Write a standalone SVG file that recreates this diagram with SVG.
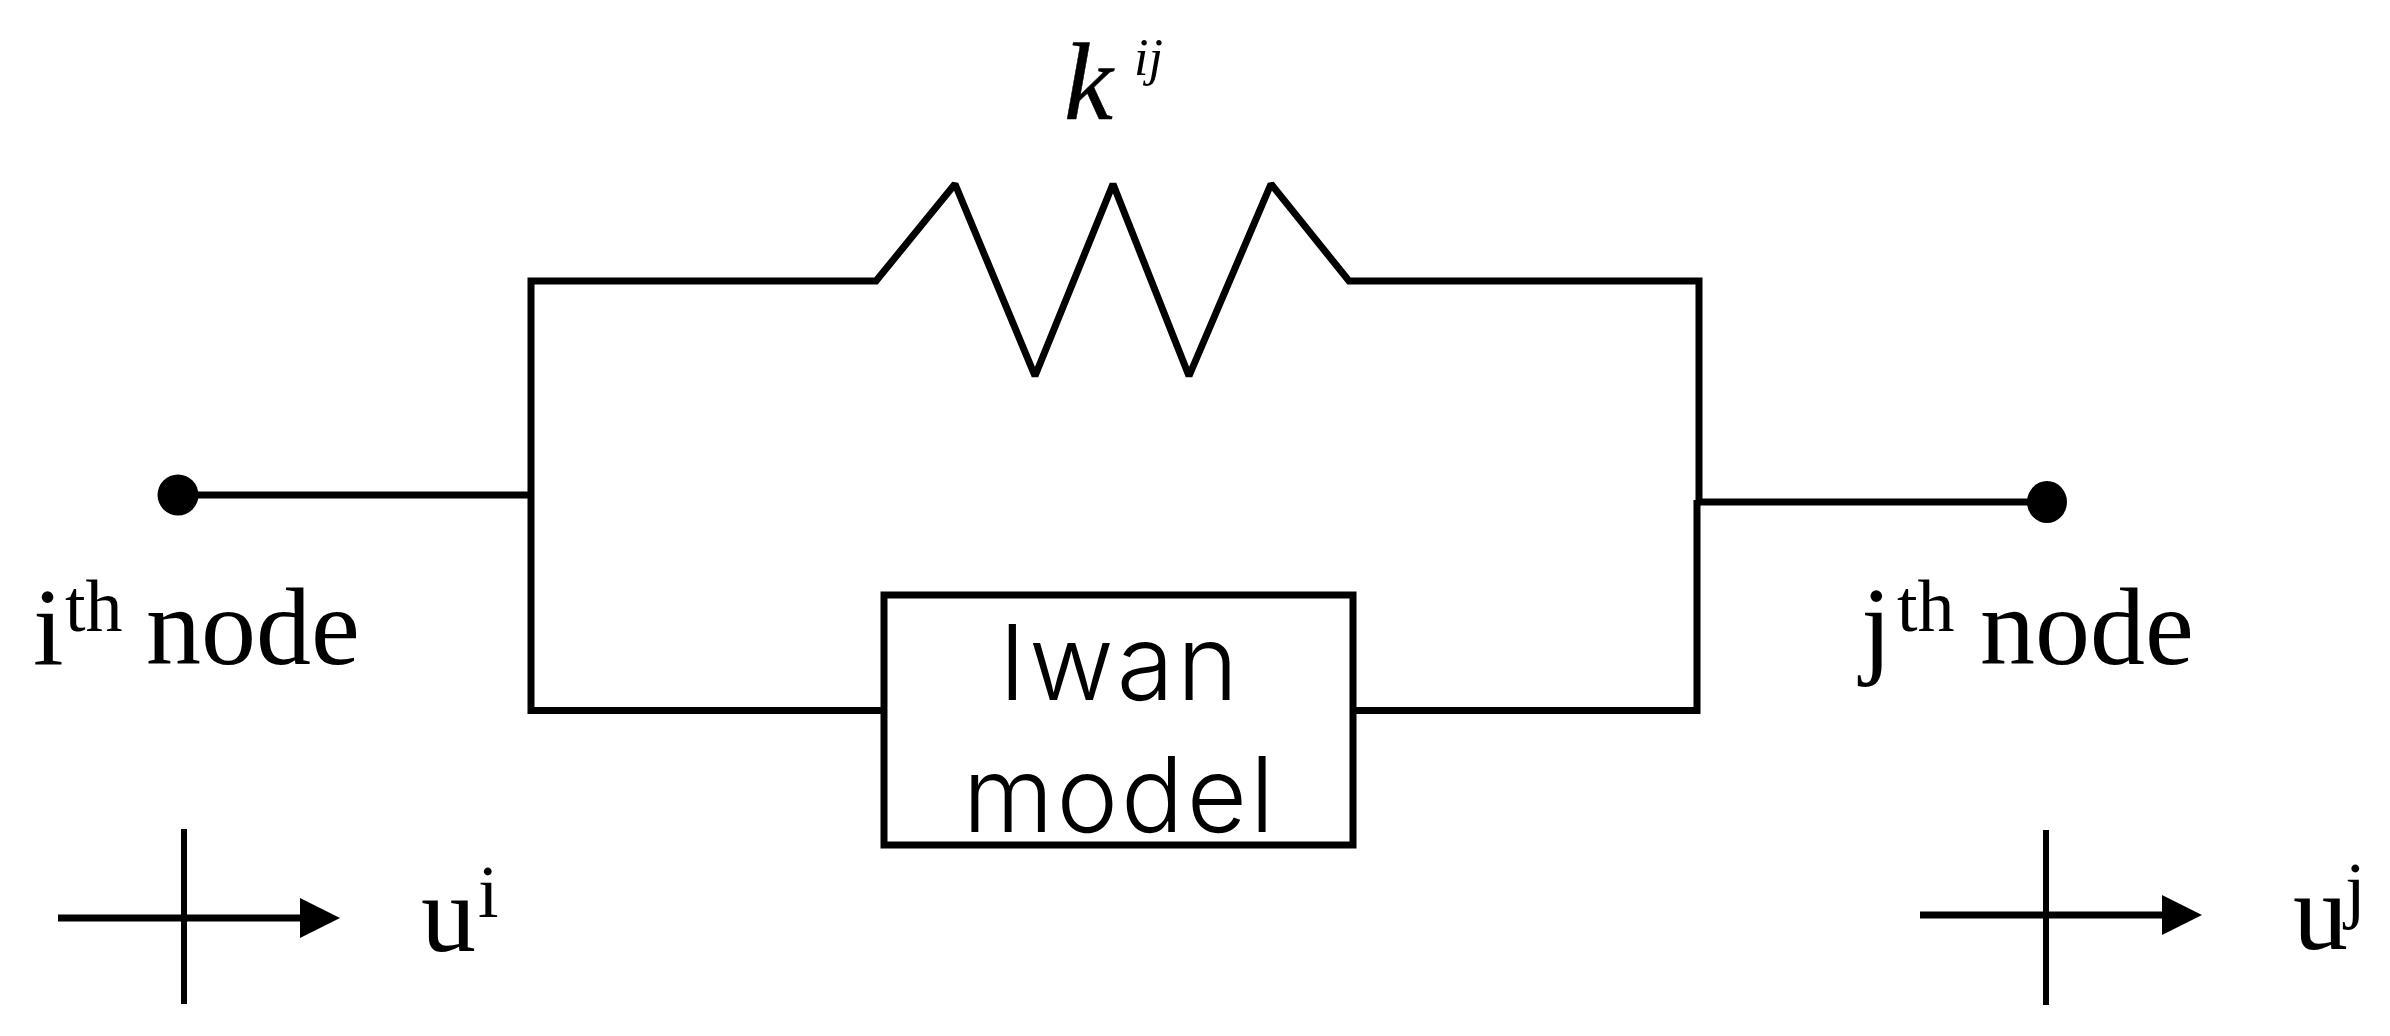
<svg xmlns="http://www.w3.org/2000/svg" width="2390" height="1036" viewBox="0 0 2390 1036">
<style>
.w{fill:none;stroke:#000;stroke-width:7;stroke-linejoin:miter;stroke-miterlimit:1.6}
.t{stroke:#000;stroke-width:6;fill:none}
.h{stroke:#000;stroke-width:7;fill:none}
.s{font-family:"Liberation Serif",serif;fill:#000}
.n{font-size:110px}
.u{font-size:74px}
.b{font-family:Inter,"Liberation Sans",sans-serif;font-weight:300;font-size:104px;letter-spacing:3px;fill:#000;text-anchor:middle}
</style>
<defs>
<marker id="ah" markerUnits="userSpaceOnUse" markerWidth="42" markerHeight="42" refX="0" refY="21" orient="auto"><path d="M0,1 L40,21 L0,41 Z" fill="#000"/></marker>
</defs>
<rect width="2390" height="1036" fill="#fff"/>
<g id="connectors">
<polyline class="w" points="177,495 531,495"/>
<polyline class="w" points="884,710.5 531,710.5 531,281 876,281 955,184 1035,376 1113,184 1189,376 1271,184 1349,281 1699,281 1699,500"/>
<polyline class="w" points="1697,500 1697,710.5 1353,710.5"/>
<polyline class="w" points="1697,502 2047,502"/>
</g>
<g id="node-i"><circle cx="178" cy="495" r="20.5" fill="#000"/>
<text class="s n" x="33" y="664">i</text><text class="s u" x="65" y="631">th</text><text class="s n" x="146" y="664">node</text></g>
<g id="node-j"><ellipse cx="2047" cy="502" rx="20" ry="21" fill="#000"/>
<text class="s n" x="1861" y="664">j</text><text class="s u" x="1897" y="631">th</text><text class="s n" x="1980" y="664">node</text></g>
<g id="spring-label"><text class="s" font-style="italic" font-size="110" stroke="#000" stroke-width="0.5" x="1064" y="119">k</text><text class="s" font-style="italic" font-size="52" fill="#222" x="1134" y="75">ij</text></g>
<g id="iwan"><rect x="884" y="595" width="469" height="250" fill="#fff" stroke="#000" stroke-width="7"/>
<text class="b" x="1120" y="700">Iwan</text><text class="b" x="1120" y="832">model</text></g>
<g id="disp-i"><line class="t" x1="184" y1="829" x2="184" y2="1004"/><line class="h" x1="58" y1="918" x2="300" y2="918" marker-end="url(#ah)"/>
<text class="s n" x="421" y="951">u</text><text class="s u" x="478" y="917">i</text></g>
<g id="disp-j"><line class="t" x1="2046" y1="830" x2="2046" y2="1005"/><line class="h" x1="1920" y1="915" x2="2162" y2="915" marker-end="url(#ah)"/>
<text class="s n" x="2293" y="949">u</text><text class="s u" x="2345" y="914">j</text></g>
</svg>
